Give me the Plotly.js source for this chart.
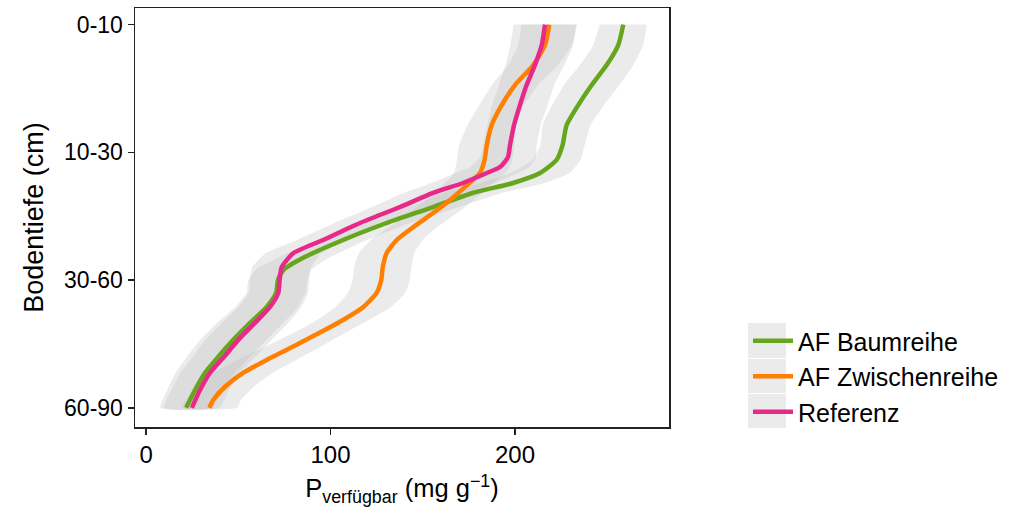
<!DOCTYPE html>
<html><head><meta charset="utf-8">
<script src="https://cdn.plot.ly/plotly-3.0.1.min.js"></script>
<style>body{margin:0;background:#fff}#chart{width:1020px;height:513px}</style>
</head><body><div id="chart"></div>
<script>
// Depth classes (y axis, 1 = top)
const depthLabels = ['0-10', '10-30', '30-60', '60-90'];
const depthLevels = [1, 2, 3, 4];
const xTicks = [0, 100, 200];

// AF Baumreihe
const baumDepth = [1.0, 1.16, 1.317, 1.473, 1.63, 1.786, 1.943, 2.06, 2.162, 2.24, 2.318, 2.428, 2.553, 2.686, 2.82, 2.92, 3.0, 3.1, 3.21, 3.335, 3.468, 3.6, 3.725, 3.858, 4.0];
const baumP     = [258.7, 256, 249.7, 241.6, 234.3, 228, 225.8, 222.5, 213.6, 199, 177, 155.6, 130.4, 106.8, 86, 74.5, 71.5, 70.5, 65.4, 56.4, 47.3, 39.2, 32, 26.6, 21.7];
const baumSE    = [12.8, 13.5, 14.5, 15, 14, 13, 12, 13, 16, 17, 16, 14, 13, 13, 14, 15, 16, 16, 17, 18, 18, 17, 16, 15, 14];

// AF Zwischenreihe
const zwDepth = [1.0, 1.16, 1.317, 1.473, 1.63, 1.786, 1.943, 2.06, 2.162, 2.27, 2.373, 2.475, 2.585, 2.686, 2.79, 2.9, 3.0, 3.1, 3.21, 3.31, 3.41, 3.52, 3.625, 3.725, 3.835, 3.937, 4.0];
const zwP     = [218.6, 216.3, 209.9, 200, 192.8, 187.4, 184.7, 183.5, 181, 172.9, 164.8, 155.6, 144.9, 135.9, 130.4, 128.3, 127.5, 125, 117.8, 107, 94.3, 79.8, 65.4, 52.8, 42.8, 36.5, 34.3];
const zwSE    = [15, 14.5, 13.5, 12.5, 12, 13, 15, 15, 14, 13, 13, 13, 13, 14, 15, 15.5, 15.5, 15.5, 15, 14, 14, 15, 16, 16, 15.5, 15, 15];

// Referenz
const refDepth = [1.0, 1.16, 1.317, 1.473, 1.63, 1.786, 1.943, 2.037, 2.115, 2.162, 2.24, 2.318, 2.428, 2.553, 2.686, 2.79, 2.9, 3.0, 3.1, 3.21, 3.335, 3.468, 3.6, 3.725, 3.858, 4.0];
const refP     = [216.3, 214.5, 210.8, 206.3, 202.7, 199.5, 197.3, 196.2, 191.9, 184.7, 171.8, 155.6, 137.7, 116, 96, 79.8, 73.5, 72.4, 71.7, 67.2, 59, 50, 42.3, 34.7, 29.3, 24.8];
const refSE    = [17, 17, 16, 15, 15, 14.5, 14.5, 15, 16, 17, 17, 16, 15, 14, 14, 15, 16, 16, 16, 17, 18, 18, 17, 16, 15.5, 15];

const seriesNames  = ['AF Baumreihe', 'AF Zwischenreihe', 'Referenz'];
const seriesColors = ['#66a61e', '#ff7f00', '#e7298a'];
const seriesDepth  = [baumDepth, zwDepth, refDepth];
const seriesP      = [baumP, zwP, refP];
const seriesSE     = [baumSE, zwSE, refSE];

const FONT = 'Liberation Sans, Arial, Helvetica, sans-serif';
const traces = [];
// ribbons
for (let i = 0; i < 3; i++) {
  const d = seriesDepth[i], p = seriesP[i], se = seriesSE[i];
  const lo = p.map((v, k) => v - se[k]);
  const hi = p.map((v, k) => v + se[k]);
  traces.push({
    type: 'scatter', mode: 'lines',
    x: lo.concat(hi.slice().reverse()),
    y: d.concat(d.slice().reverse()),
    fill: 'toself', fillcolor: 'rgba(190,190,190,0.3)',
    line: {width: 0, shape: 'spline', smoothing: 0.5},
    hoverinfo: 'skip', showlegend: false
  });
}
// lines
for (let i = 0; i < 3; i++) {
  traces.push({
    type: 'scatter', mode: 'lines', name: seriesNames[i],
    x: seriesP[i], y: seriesDepth[i],
    line: {color: seriesColors[i], width: 4.5, shape: 'spline', smoothing: 0.6}
  });
}

// pixel -> paper helpers for legend key backgrounds
const PL = 135, PR = 669, PT = 8, PB = 427;
const px = v => (v - PL) / (PR - PL);
const py = v => (PB - v) / (PB - PT);
const keyRows = [[323, 358], [359, 393], [394, 428]];
const shapes = keyRows.map(r => ({
  type: 'rect', xref: 'paper', yref: 'paper',
  x0: px(748), x1: px(786), y0: py(r[1]), y1: py(r[0]),
  fillcolor: '#ebebeb', line: {width: 0}, layer: 'below'
}));

const layout = {
  width: 1020, height: 513,
  margin: {l: PL, r: 1020 - PR, t: PT, b: 513 - PB},
  paper_bgcolor: '#fff', plot_bgcolor: '#fff',
  font: {family: FONT, size: 22, color: '#000'},
  showlegend: true,
  legend: {x: px(748), xanchor: 'left', y: py(318), yanchor: 'top',
           font: {family: FONT, size: 25, color: '#000'},
           itemwidth: 40, bgcolor: 'rgba(0,0,0,0)', traceorder: 'normal'},
  xaxis: {
    range: [-6, 283.5], tickvals: xTicks, ticktext: xTicks.map(String),
    showgrid: false, zeroline: false,
    showline: true, mirror: true, linecolor: '#222', linewidth: 1.5,
    ticks: 'outside', ticklen: 6, tickwidth: 1.5, tickcolor: '#222',
    tickfont: {family: FONT, size: 24, color: '#000'},
    title: {text: 'P<sub>verfügbar</sub> (mg g<sup>\u22121</sup>)', standoff: 12,
            font: {family: FONT, size: 25.5, color: '#000'}}
  },
  yaxis: {
    range: [4.15, 0.87], tickvals: depthLevels, ticktext: depthLabels,
    showgrid: false, zeroline: false,
    showline: true, mirror: true, linecolor: '#222', linewidth: 1.5,
    ticks: 'outside', ticklen: 6, tickwidth: 1.5, tickcolor: '#222',
    tickfont: {family: FONT, size: 23, color: '#000'},
    title: {text: 'Bodentiefe (cm)', standoff: 12,
            font: {family: FONT, size: 27, color: '#000'}}
  },
  shapes: shapes
};

Plotly.newPlot('chart', traces, layout, {displayModeBar: false, staticPlot: true});
</script>
</body></html>
